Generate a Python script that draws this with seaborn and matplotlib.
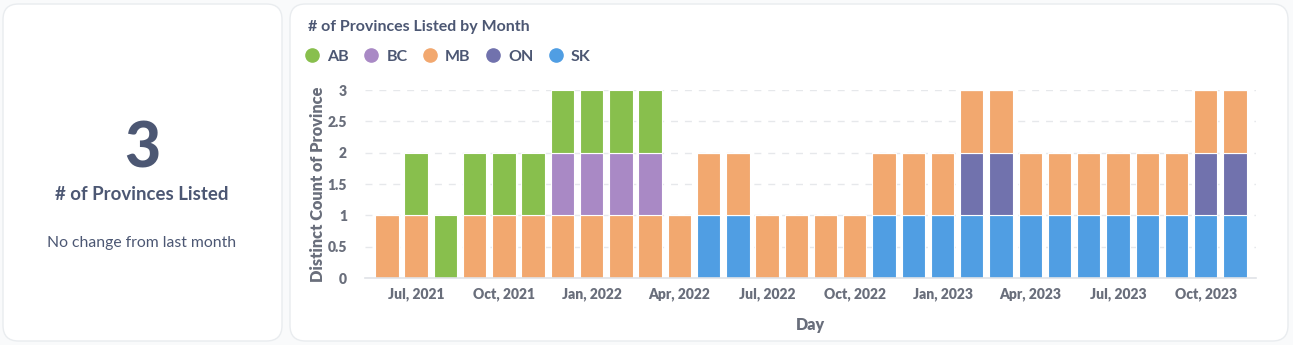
import numpy as np
import pandas as pd
import matplotlib
matplotlib.use("Agg")
import matplotlib.pyplot as plt
from matplotlib.patches import FancyBboxPatch
from matplotlib.lines import Line2D
import seaborn as sns

# Monthly listing data: 1 = province listed that month
months = ["Jun, 2021", "Jul, 2021", "Aug, 2021", "Sep, 2021", "Oct, 2021", "Nov, 2021",
          "Dec, 2021", "Jan, 2022", "Feb, 2022", "Mar, 2022", "Apr, 2022", "May, 2022",
          "Jun, 2022", "Jul, 2022", "Aug, 2022", "Sep, 2022", "Oct, 2022", "Nov, 2022",
          "Dec, 2022", "Jan, 2023", "Feb, 2023", "Mar, 2023", "Apr, 2023", "May, 2023",
          "Jun, 2023", "Jul, 2023", "Aug, 2023", "Sep, 2023", "Oct, 2023", "Nov, 2023"]
provinces = ["AB", "BC", "MB", "ON", "SK"]
ab = [0, 1, 1, 1, 1, 1, 1, 1, 1, 1, 0, 0, 0, 0, 0, 0, 0, 0, 0, 0, 0, 0, 0, 0, 0, 0, 0, 0, 0, 0]
bc = [0, 0, 0, 0, 0, 0, 1, 1, 1, 1, 0, 0, 0, 0, 0, 0, 0, 0, 0, 0, 0, 0, 0, 0, 0, 0, 0, 0, 0, 0]
mb = [1, 1, 0, 1, 1, 1, 1, 1, 1, 1, 1, 1, 1, 1, 1, 1, 1, 1, 1, 1, 1, 1, 1, 1, 1, 1, 1, 1, 1, 1]
on = [0, 0, 0, 0, 0, 0, 0, 0, 0, 0, 0, 0, 0, 0, 0, 0, 0, 0, 0, 0, 1, 1, 0, 0, 0, 0, 0, 0, 1, 1]
sk = [0, 0, 0, 0, 0, 0, 0, 0, 0, 0, 0, 1, 1, 0, 0, 0, 0, 1, 1, 1, 1, 1, 1, 1, 1, 1, 1, 1, 1, 1]
tick_labels = ["Jul, 2021", "Oct, 2021", "Jan, 2022", "Apr, 2022", "Jul, 2022",
               "Oct, 2022", "Jan, 2023", "Apr, 2023", "Jul, 2023", "Oct, 2023"]
y_ticks = [0, 0.5, 1, 1.5, 2, 2.5, 3]

kpi_value = "3"
kpi_title = "# of Provinces Listed"
kpi_note = "No change from last month"
chart_title = "# of Provinces Listed by Month"

palette = {"AB": "#88bf4d", "BC": "#a989c5", "MB": "#f2a86f", "ON": "#7172ad", "SK": "#509ee3"}
text_dark = "#4c5773"
text_mid = "#696e7b"

series = {"AB": ab, "BC": bc, "MB": mb, "ON": on, "SK": sk}
rows = []
for prov in provinces:
    for i, v in enumerate(series[prov]):
        if v:
            rows.append({"month": i, "province": prov, "count": v})
df = pd.DataFrame(rows)

sns.set_theme(style="white")
plt.rcParams["font.family"] = ["Lato", "DejaVu Sans"]

W, H = 1293, 345
fig = plt.figure(figsize=(W / 100, H / 100), dpi=100)
fig.patch.set_facecolor("#f9fafb")


def card(x0, y0, x1, y1):
    box = FancyBboxPatch((x0 / W, 1 - y1 / H), (x1 - x0) / W, (y1 - y0) / H,
                         boxstyle="round,pad=0,rounding_size=0.012",
                         transform=fig.transFigure, facecolor="white",
                         edgecolor="#e9ecef", linewidth=1.0, zorder=-5,
                         mutation_aspect=W / H)
    fig.patches.append(box)


card(3, 4, 282, 341)
card(290, 4, 1288, 341)

# KPI card
fig.text(142 / W, 1 - 167 / H, kpi_value, ha="center", va="baseline",
         fontsize=45, fontweight="black", color=text_dark)
fig.text(142 / W, 1 - 200 / H, kpi_title, ha="center", va="baseline",
         fontsize=13.4, fontweight="bold", color=text_dark)
fig.text(142 / W, 1 - 247 / H, kpi_note, ha="center", va="baseline",
         fontsize=11.3, color=text_dark)

# Stacked bar chart
ax = fig.add_axes([365 / W, 1 - 278 / H, (1256 - 365) / W, (278 - 90) / H])
ax.set_facecolor("none")
sns.histplot(data=df, x="month", weights="count", hue="province",
             hue_order=provinces, palette=palette, multiple="stack",
             discrete=True, shrink=0.8, alpha=1, edgecolor="white",
             linewidth=0.8, legend=False, ax=ax)

ax.set_xlim(-0.75, len(months) - 0.28)
ax.set_ylim(0, 3)
tick_pos = [months.index(t) for t in tick_labels]
ax.set_xticks(tick_pos)
ax.set_yticks(y_ticks)
ax.tick_params(axis="x", length=0, pad=7)
ax.tick_params(axis="y", length=0, pad=13)
ax.set_xticklabels(tick_labels, fontsize=10, fontweight="heavy", color=text_mid)
ax.set_yticklabels([f"{t:g}" for t in y_ticks], fontsize=10, fontweight="heavy",
                   color=text_mid)

ax.yaxis.grid(True, linestyle=(0, (5, 5)), color="#e6e8eb", linewidth=1)
ax.set_axisbelow(True)
for side in ["top", "right", "left"]:
    ax.spines[side].set_visible(False)
ax.spines["bottom"].set_color("#e0e3e7")
ax.spines["bottom"].set_linewidth(1.2)

ax.set_xlabel("Day", fontsize=11.5, fontweight="heavy", color=text_mid, labelpad=11)
ax.set_ylabel("Distinct Count of Province", fontsize=11.8, fontweight="heavy",
              color=text_mid, labelpad=1)

# Title and legend
fig.text(308 / W, 1 - 31 / H, chart_title, ha="left", va="baseline",
         fontsize=11.5, fontweight="bold", color=text_dark)
handles = [Line2D([0], [0], marker="o", linestyle="", markersize=9.5,
                  markerfacecolor=palette[p], markeredgecolor=palette[p])
           for p in provinces]
leg = fig.legend(handles, provinces, loc="center left",
                 bbox_to_anchor=(288 / W, 1 - 57 / H), ncol=5, frameon=False,
                 handletextpad=0.35, columnspacing=0.8, handlelength=1.2,
                 prop={"weight": "bold", "size": 11.5})
for t in leg.get_texts():
    t.set_color(text_dark)

fig.savefig("out.png", dpi=100, facecolor=fig.get_facecolor())
